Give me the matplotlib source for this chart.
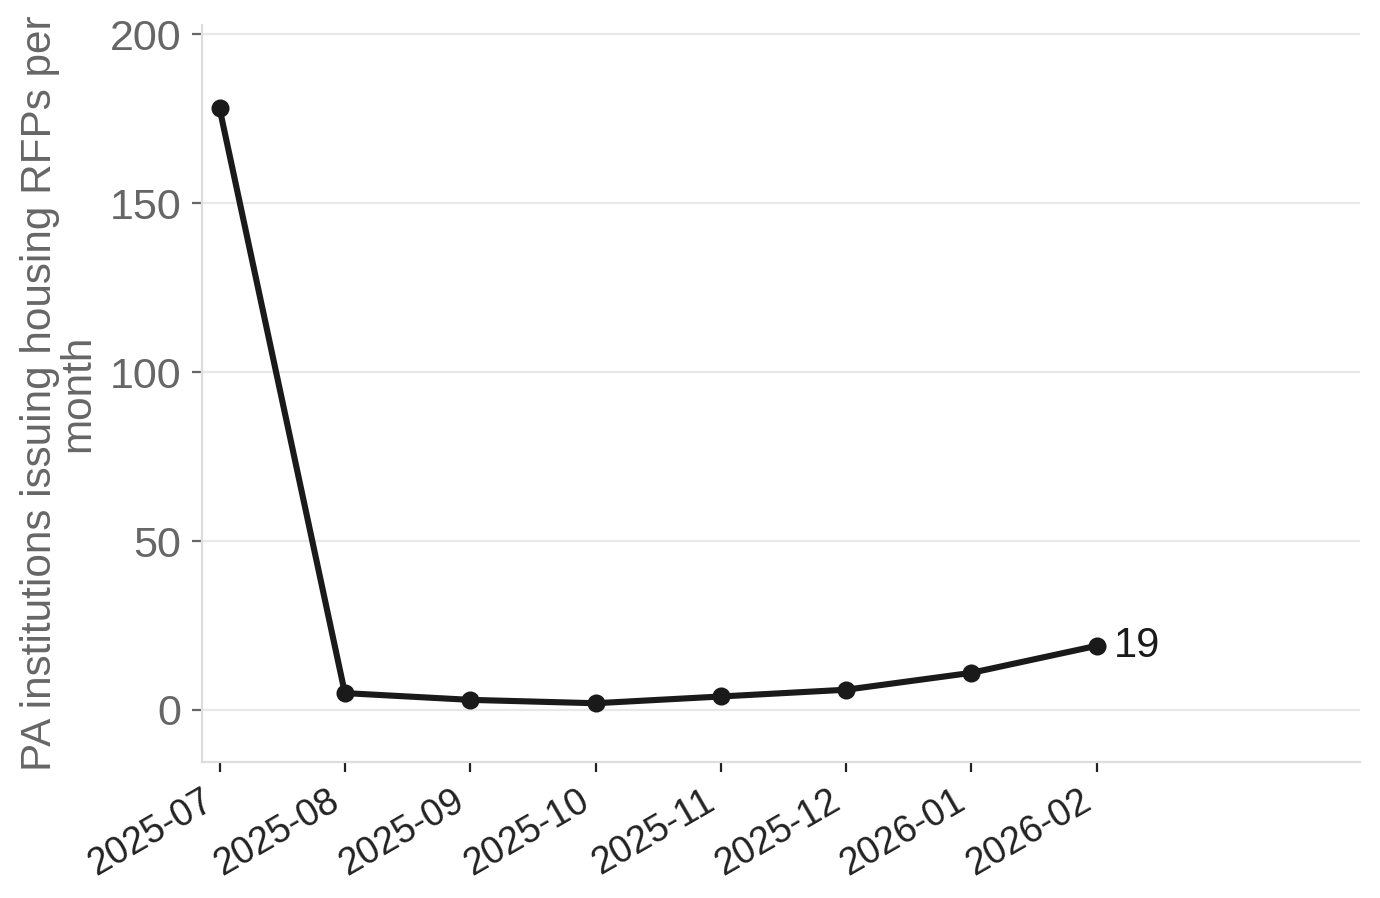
import matplotlib
matplotlib.use("Agg")
import matplotlib.pyplot as plt

months = ["2025-07", "2025-08", "2025-09", "2025-10", "2025-11", "2025-12", "2026-01", "2026-02"]
institutions = [178, 5, 3, 2, 4, 6, 11, 19]

plt.rcParams["font.family"] = ["Liberation Sans", "DejaVu Sans"]

fig = plt.figure(figsize=(6.9, 4.49), dpi=200)
ax = fig.add_axes([0.1464, 0.1514, 0.8391, 0.8208])

x = list(range(len(months)))
ax.plot(x, institutions, color="#1a1a1a", linewidth=2.2, marker="o", markersize=5.5, zorder=3)

# label last value
ax.annotate(str(institutions[-1]), xy=(x[-1], institutions[-1]), xytext=(6, 0),
            textcoords="offset points", va="center", ha="left", fontsize=15, color="#1a1a1a")

ax.set_xlim(-0.14, 9.1)
ax.set_ylim(-15.4, 202.7)
ax.set_xticks(x)
ax.set_xticklabels(months, rotation=30, ha="right")
ax.set_yticks([0, 50, 100, 150, 200])

ax.grid(axis="y", color="#e8e8e8", linewidth=0.8)
ax.set_axisbelow(True)
for s in ["top", "right"]:
    ax.spines[s].set_visible(False)
for s in ["left", "bottom"]:
    ax.spines[s].set_color("#dddddd")
    ax.spines[s].set_linewidth(0.8)

ax.tick_params(axis="y", labelsize=15.5, labelcolor="#666666", color="#666666", length=3.5, width=0.8, pad=4)
ax.tick_params(axis="x", labelsize=13.5, labelcolor="#222222", color="#222222", length=3.5, width=0.8, pad=4)

ax.set_ylabel("PA institutions issuing housing RFPs per\nmonth", fontsize=15.2, color="#666666",
              linespacing=0.95, labelpad=4)

fig.savefig("out.png", dpi=200)
